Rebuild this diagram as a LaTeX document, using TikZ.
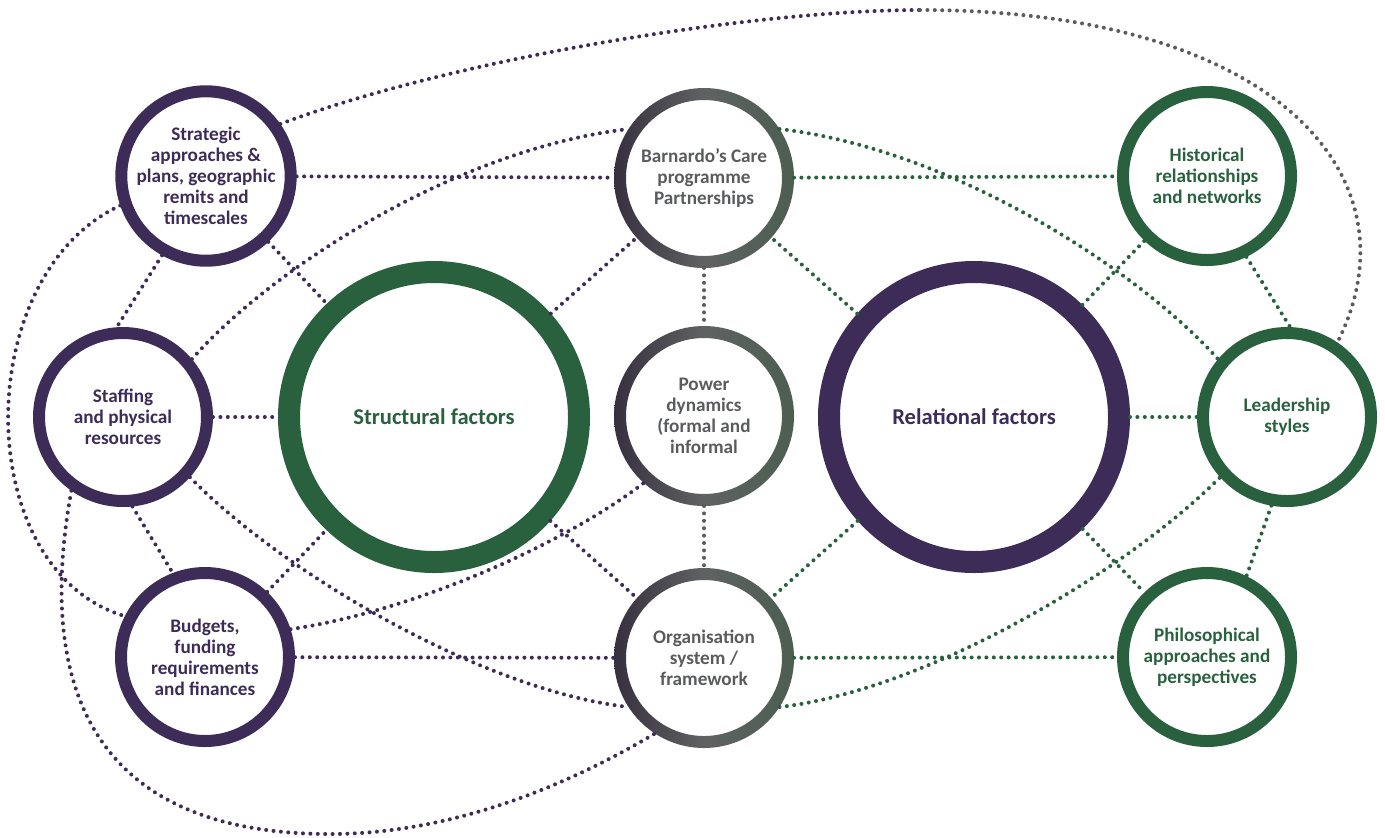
\documentclass[tikz,border=0pt]{standalone}
\usepackage{fontspec}
\setmainfont{Carlito}
\definecolor{plum}{HTML}{3D2C57}
\definecolor{fir}{HTML}{29613F}
\definecolor{slate}{HTML}{5A5B5D}
\definecolor{slateL}{HTML}{37303F}
\definecolor{slateM}{HTML}{5F6262}
\definecolor{slateR}{HTML}{4C5E52}
\tikzset{
	factor/.style={circle, draw, line width=6pt, minimum size=84pt, inner sep=0pt, align=center, font=\fontsize{9.6}{10.5}\selectfont\bfseries},
	bigfactor/.style={factor, line width=11pt, minimum size=145pt, font=\fontsize{11.3}{13}\selectfont\bfseries},
	core/.style={circle, minimum size=90pt, inner sep=0pt, outer sep=0pt, align=center, text=slate, font=\fontsize{9.6}{10.5}\selectfont\bfseries},
	link/.style={line width=2pt, line cap=round, dash pattern=on 0pt off 3.7pt}
}

\begin{document}
\begin{tikzpicture}[x=0.5pt, y=-0.5pt]
	\useasboundingbox (0,0) rectangle (1385,837);

	% left column
	\node[factor, plum] (strat) at (206,176) {Strategic\\approaches \&\\plans, geographic\\remits and\\timescales};
	\node[factor, plum] (staff) at (123,417) {Staffing\\and physical\\resources};
	\node[factor, plum] (budget) at (205,657) {Budgets,\\funding\\requirements\\and finances};

	% middle column
	\node[core] (barn) at (704,178) {Barnardo’s Care\\programme\\Partnerships};
	\node[core] (power) at (704,416) {Power\\dynamics\\(formal and\\informal};
	\node[core] (org) at (704,658) {Organisation\\system /\\framework};
	\foreach \c in {barn, power, org}
		\shade[left color=slateL, right color=slateR, middle color=slateM, even odd rule] (\c.center) circle (45pt) (\c.center) circle (39pt);

	% right column
	\node[factor, fir] (hist) at (1207,176) {Historical\\relationships\\and networks};
	\node[factor, fir] (lead) at (1287,417) {Leadership\\styles};
	\node[factor, fir] (phil) at (1207,657) {Philosophical\\approaches and\\perspectives};

	\node[bigfactor, fir] (struct) at (434,417) {Structural factors};
	\node[bigfactor, plum] (rel) at (974,417) {Relational factors};

	\coordinate (apex) at (920,10);
	\coordinate (low) at (330,834);

	\draw[link, plum] (strat) -- (barn);
	\draw[link, fir] (barn) -- (hist);
	\draw[link, plum] (staff) -- (struct);
	\draw[link, fir] (rel) -- (lead);
	\draw[link, plum] (budget) -- (org);
	\draw[link, fir] (org) -- (phil);
	\draw[link, slate] (barn) -- (power);
	\draw[link, slate] (power) -- (org);

	\draw[link, plum] (strat) -- (struct);
	\draw[link, plum] (budget) -- (struct);
	\draw[link, plum] (struct) -- (barn);
	\draw[link, plum] (struct) -- (org);
	\draw[link, fir] (rel) -- (barn);
	\draw[link, fir] (rel) -- (org);
	\draw[link, fir] (rel) -- (hist);
	\draw[link, fir] (rel) -- (phil);

	\draw[link, plum] (strat.-119) -- (staff.94);
	\draw[link, plum] (staff.-84) -- (budget.111);
	\draw[link, fir] (hist.-64) -- (lead.88);
	\draw[link, fir] (lead.-100) -- (phil.64);

	% long bends
	\draw[link, plum] (staff.40) .. controls (265,275) and (450,150) .. (barn.147);
	\draw[link, fir] (barn.33) .. controls (958,150) and (1143,275) .. (lead.140);
	\draw[link, plum] (staff.-42) .. controls (280,570) and (480,690) .. (org.-147);
	\draw[link, fir] (org.-33) .. controls (928,690) and (1128,570) .. (lead.-138);
	\draw[link, plum] (budget.18) .. controls (420,610) and (570,540) .. (power.-132);
	\draw[link, plum] (strat.-161) .. controls (-30,275) and (-30,570) .. (budget.153);
	\draw[link, plum] (staff.-125) .. controls (35,690) and (95,834) .. (low) .. controls (480,834) and (610,760) .. (org.-123);
	\draw[link, plum] (strat.35) .. controls (450,60) and (750,10) .. (apex);
	\draw[link, slate] (apex) .. controls (1280,10) and (1420,180) .. (lead.56);
\end{tikzpicture}
\end{document}
